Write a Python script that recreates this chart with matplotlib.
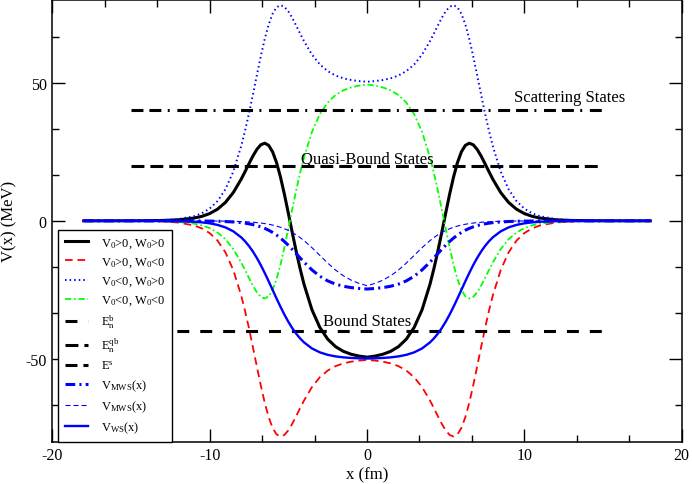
import numpy as np
import matplotlib
matplotlib.use("Agg")
import matplotlib.pyplot as plt
from matplotlib.ticker import MultipleLocator, AutoMinorLocator

# half profiles (x >= 0), curves are symmetric in x
x_half = [0, 0.5, 1, 1.5, 2, 2.5, 3, 3.5, 4, 4.25, 4.5, 4.75, 5, 5.25, 5.5, 5.75,
          6, 6.25, 6.5, 6.75, 7, 7.25, 7.5, 7.75, 8, 8.5, 9, 9.5, 10, 10.5, 11,
          12, 13, 14, 15, 16, 17, 18]

v_pos_w_pos = [-49.38, -48.99, -48.34, -47.28, -45.57, -42.84, -38.59, -32.19, -23.04,
               -17.37, -11.05, -4.24, 2.77, 9.62, 15.88, 21.12, 25.00, 27.34, 28.12,
               27.54, 25.88, 23.49, 20.71, 17.82, 15.04, 10.23, 6.66, 4.23, 2.63, 1.62,
               1.00, 0.37, 0.14, 0.05, 0.02, 0.01, 0.0, 0.0]
v_pos_w_neg = [-50.37, -50.61, -51.00, -51.62, -52.63, -54.23, -56.66, -60.23, -65.04,
               -67.82, -70.71, -73.49, -75.88, -77.54, -78.12, -77.34, -75.00, -71.12,
               -65.88, -59.62, -52.77, -45.76, -38.95, -32.63, -26.96, -17.81, -11.41,
               -7.16, -4.43, -2.72, -1.66, -0.62, -0.23, -0.08, -0.03, -0.01, 0.0, 0.0]
v_neg_w_pos = [50.37, 50.61, 51.00, 51.62, 52.63, 54.23, 56.66, 60.23, 65.04,
               67.82, 70.71, 73.49, 75.88, 77.54, 78.12, 77.34, 75.00, 71.12,
               65.88, 59.62, 52.77, 45.76, 38.95, 32.63, 26.96, 17.81, 11.41,
               7.16, 4.43, 2.72, 1.66, 0.62, 0.23, 0.08, 0.03, 0.01, 0.0, 0.0]
v_neg_w_neg = [49.38, 48.99, 48.34, 47.28, 45.57, 42.84, 38.59, 32.19, 23.04,
               17.37, 11.05, 4.24, -2.77, -9.62, -15.88, -21.12, -25.00, -27.34, -28.12,
               -27.54, -25.88, -23.49, -20.71, -17.82, -15.04, -10.23, -6.66, -4.23, -2.63,
               -1.62, -1.00, -0.37, -0.14, -0.05, -0.02, -0.01, 0.0, 0.0]
v_mws_1 = [-24.70, -24.50, -24.19, -23.70, -22.92, -21.75, -20.05, -17.77, -14.97,
           -13.44, -11.88, -10.33, -8.86, -7.49, -6.24, -5.15, -4.20, -3.40, -2.73,
           -2.18, -1.73, -1.37, -1.08, -0.85, -0.66, -0.41, -0.25, -0.15, -0.09, -0.06,
           -0.03, -0.01, 0.0, 0.0, 0.0, 0.0, 0.0, 0.0]
v_mws_2 = [-23.47, -22.67, -21.51, -19.91, -17.82, -15.29, -12.50, -9.71, -7.18,
           -6.07, -5.09, -4.23, -3.49, -2.86, -2.34, -1.90, -1.53, -1.24, -1.00,
           -0.80, -0.64, -0.51, -0.41, -0.33, -0.26, -0.17, -0.11, -0.07, -0.04, -0.03,
           -0.02, -0.01, 0.0, 0.0, 0.0, 0.0, 0.0, 0.0]
v_ws = [-49.88, -49.80, -49.67, -49.45, -49.10, -48.53, -47.63, -46.21, -44.04,
        -42.60, -40.88, -38.87, -36.55, -33.96, -31.12, -28.11, -25.00, -21.89, -18.88,
        -16.04, -13.45, -11.14, -9.12, -7.40, -5.96, -3.79, -2.37, -1.47, -0.90, -0.55,
        -0.33, -0.12, -0.05, -0.02, -0.01, 0.0, 0.0, 0.0]

# energy levels
e_bound = -40
e_quasi = 20
e_scatt = 40
e_span = [-15, 15]


def full(y):
    # mirror the half profile onto x < 0
    y = np.asarray(y)
    return np.concatenate([y[:0:-1], y])


x_full = np.concatenate([-np.asarray(x_half)[:0:-1], np.asarray(x_half)])

plt.rcParams['font.family'] = ['Liberation Serif', 'DejaVu Serif']
plt.rcParams['mathtext.fontset'] = 'custom'
plt.rcParams['mathtext.rm'] = 'Liberation Serif'
plt.rcParams['mathtext.it'] = 'Liberation Serif:italic'
plt.rcParams['axes.unicode_minus'] = False
plt.rcParams['lines.scale_dashes'] = False

fig = plt.figure(figsize=(6.92, 4.85), dpi=100)
ax = fig.add_axes([0.0756, 0.0872, 0.9095, 0.9108])

ax.plot(x_full, full(v_pos_w_pos), color='black', lw=2.2, label=r'V$_0$>0, W$_0$>0')
ax.plot(x_full, full(v_pos_w_neg), color='#ff0000', lw=1.3, ls=(0, (5.5, 3.5)),
        label=r'V$_0$>0, W$_0$<0')
ax.plot(x_full, full(v_neg_w_pos), color='#0000ff', lw=1.4, ls=(0, (1.1, 2.2)),
        label=r'V$_0$<0, W$_0$>0')
ax.plot(x_full, full(v_neg_w_neg), color='#00ff00', lw=1.3, ls=(0, (4.5, 2, 1.2, 2)),
        label=r'V$_0$<0, W$_0$<0')

ax.plot(e_span, [e_bound, e_bound], color='black', lw=2.2, ls=(0, (8.6, 7.9)),
        label=r'E$^\mathrm{b}_\mathrm{n}$')
ax.plot(e_span, [e_quasi, e_quasi], color='black', lw=2.2, ls=(0, (9.3, 4.3)),
        label=r'E$^\mathrm{qb}_\mathrm{n}$')
ax.plot(e_span, [e_scatt, e_scatt], color='black', lw=2.2,
        ls=(0, (8.6, 4.3, 8.6, 4.6, 1.4, 5.5)), label=r'E$^\mathrm{s}$')

ax.plot(x_full, full(v_mws_1), color='#0000ff', lw=2.2, ls=(0, (7, 3, 1.5, 3)),
        label=r'V$_\mathrm{MWS}$(x)')
ax.plot(x_full, full(v_mws_2), color='#0000ff', lw=0.8, ls=(0, (3.6, 2.2)),
        label=r'V$_\mathrm{MWS}$(x)')
ax.plot(x_full, full(v_ws), color='#0000ff', lw=1.7, label=r'V$_\mathrm{WS}$(x)')

# state labels
ax.text(12.9, 43.3, 'Scattering States', fontsize=12, ha='center', va='baseline')
ax.text(0, 21.3, 'Quasi-Bound States', fontsize=12, ha='center', va='baseline')
ax.text(0, -37.8, 'Bound States', fontsize=12, ha='center', va='baseline')

ax.set_xlim(-20, 20)
ax.set_ylim(-80, 80)
ax.xaxis.set_major_locator(MultipleLocator(10))
ax.yaxis.set_major_locator(MultipleLocator(50))
ax.xaxis.set_minor_locator(AutoMinorLocator(3))
ax.yaxis.set_minor_locator(AutoMinorLocator(3))
ax.tick_params(which='both', direction='in', top=True, right=True, width=1.0,
               labelsize=11.5, pad=4)
ax.tick_params(which='major', length=9.4)
ax.tick_params(which='minor', length=5)
for s in ax.spines.values():
    s.set_linewidth(1.1)

ax.set_xlabel('x (fm)', fontsize=12, labelpad=2)
ax.set_ylabel('V(x) (MeV)', fontsize=12, labelpad=6)

leg = ax.legend(loc='lower left', bbox_to_anchor=(6 / 629.4, 0), borderaxespad=0,
                fontsize=9, handlelength=1.9, handletextpad=1.0, borderpad=0.5,
                labelspacing=0.45, fancybox=False, framealpha=1, edgecolor='black')
leg.get_frame().set_linewidth(1.0)

fig.savefig('out.png', dpi=100)
